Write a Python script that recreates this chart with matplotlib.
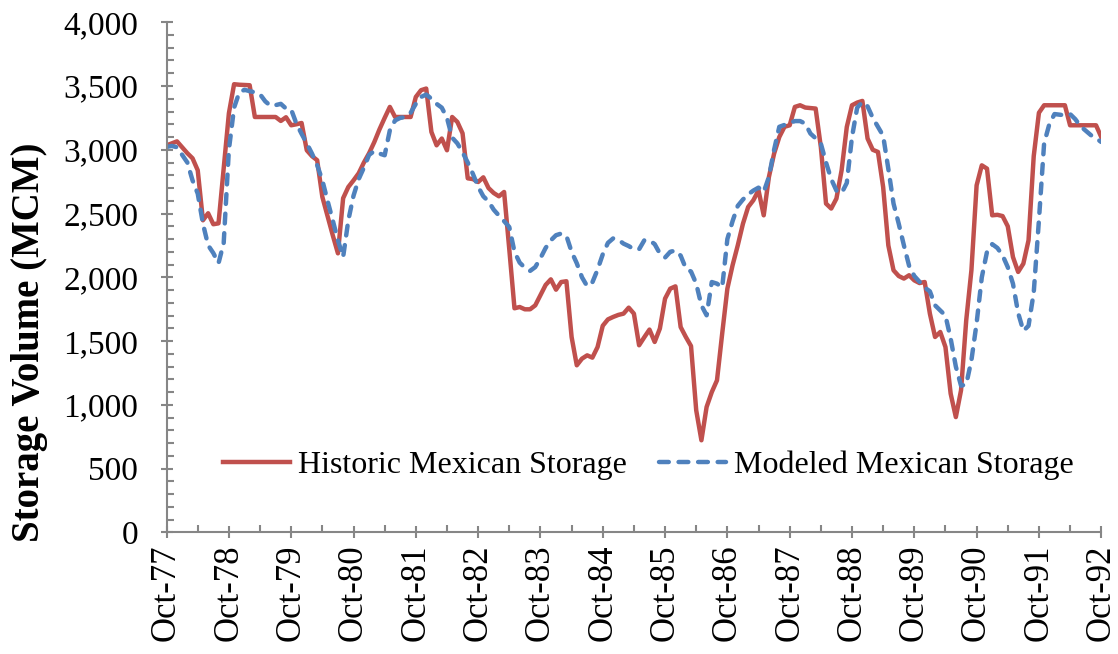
import matplotlib.pyplot as plt
from matplotlib.ticker import MultipleLocator, FuncFormatter

# Data (monthly, Oct-77 .. Oct-92)
tick_labels = ["Oct-77", "Oct-78", "Oct-79", "Oct-80", "Oct-81", "Oct-82", "Oct-83", "Oct-84",
               "Oct-85", "Oct-86", "Oct-87", "Oct-88", "Oct-89", "Oct-90", "Oct-91", "Oct-92"]

historic = [
    3035, 3050, 3066, 3020, 2973, 2933, 2839, 2447, 2502, 2416,
    2423, 2850, 3286, 3514, 3510, 3508, 3506, 3257, 3257, 3257,
    3257, 3257, 3226, 3255, 3192, 3200, 3210, 2996, 2950, 2918,
    2630, 2480, 2330, 2188, 2620, 2708, 2760, 2816, 2900, 2973,
    3060, 3160, 3250, 3336, 3257, 3257, 3257, 3257, 3414, 3467,
    3480, 3140, 3035, 3088, 2996, 3257, 3218, 3129, 2776, 2770,
    2747, 2784, 2700, 2661, 2635, 2669, 2220, 1757, 1767, 1749,
    1749, 1780, 1860, 1940, 1984, 1903, 1963, 1969, 1532, 1310,
    1362, 1388, 1370, 1453, 1620, 1670, 1689, 1705, 1715, 1762,
    1715, 1467, 1530, 1590, 1493, 1598, 1833, 1911, 1929, 1610,
    1532, 1461, 957, 722, 983, 1100, 1192, 1558, 1911, 2094,
    2250, 2420, 2551, 2604, 2682, 2486, 2787, 2970, 3100, 3180,
    3192, 3336, 3349, 3331, 3327, 3323, 3022, 2578, 2539, 2617,
    2839, 3179, 3349, 3370, 3383, 3088, 3000, 2983, 2708, 2250,
    2055, 2010, 1990, 2016, 1976, 1955, 1963, 1715, 1532, 1571,
    1453, 1088, 904, 1114, 1663, 2055, 2721, 2878, 2852, 2486,
    2490, 2480, 2400, 2159, 2042, 2107, 2290, 2950, 3290, 3349,
    3349, 3349, 3349, 3349, 3192, 3192, 3192, 3192, 3192, 3192,
    3100]

modeled = [
    3022, 3030, 3020, 2960, 2900, 2760, 2656, 2421, 2251, 2190,
    2110, 2270, 3000, 3330, 3450, 3470, 3460, 3450, 3435, 3380,
    3345, 3350, 3360, 3323, 3315, 3205, 3125, 3050, 2970, 2880,
    2760, 2600, 2447, 2290, 2159, 2447, 2640, 2770, 2860, 2960,
    2990, 2970, 2957, 3153, 3230, 3250, 3257, 3290, 3360, 3414,
    3433, 3400, 3360, 3330, 3250, 3095, 3050, 2980, 2900, 2810,
    2710, 2635, 2595, 2530, 2484, 2440, 2394, 2200, 2115, 2075,
    2050, 2080, 2150, 2230, 2290, 2330, 2343, 2325, 2200, 2110,
    2000, 1930, 1960, 2060, 2180, 2270, 2305, 2295, 2264, 2245,
    2220, 2220, 2290, 2290, 2260, 2186, 2155, 2200, 2210, 2170,
    2070, 2045, 1950, 1780, 1702, 1963, 1950, 1920, 2300, 2440,
    2560, 2610, 2650, 2680, 2703, 2669, 2787, 3000, 3180, 3195,
    3210, 3225, 3225, 3205, 3127, 3090, 3049, 2900, 2770, 2680,
    2660, 2740, 3100, 3330, 3375, 3340, 3250, 3180, 3110, 2850,
    2578, 2420, 2250, 2090, 2010, 1965, 1920, 1890, 1780, 1740,
    1700, 1520, 1300, 1150, 1160, 1350, 1640, 2000, 2200, 2260,
    2230, 2172, 2080, 1950, 1720, 1580, 1620, 1880, 2447, 3050,
    3200, 3280, 3275, 3270, 3280, 3240, 3185, 3150, 3115, 3090,
    3061]

months = list(range(len(historic)))

plt.rcParams['font.family'] = ['Liberation Serif', 'DejaVu Serif']

fig = plt.figure(figsize=(11.18, 6.54), dpi=100)
ax = fig.add_axes([0.149, 0.186, 0.836, 0.780])

ax.plot(months, historic, color="#C0504D", linewidth=3.2, label="Historic Mexican Storage")
ax.plot(months, modeled, color="#4F81BD", linewidth=3.2, linestyle=(0, (2.2, 2.2)),
        dash_capstyle="round", label="Modeled Mexican Storage")

ax.set_xlim(0, 180)
ax.set_ylim(0, 4000)

# Axes styling (Excel-like)
for side in ["top", "right"]:
    ax.spines[side].set_visible(False)
for side in ["left", "bottom"]:
    ax.spines[side].set_color("#868686")
    ax.spines[side].set_linewidth(1.5)

ax.set_xticks([12 * i for i in range(len(tick_labels))])
ax.set_xticklabels(tick_labels)
ax.set_xticks([6 + 12 * i for i in range(len(tick_labels) - 1)], minor=True)
ax.yaxis.set_major_locator(MultipleLocator(500))
ax.yaxis.set_minor_locator(MultipleLocator(100))
ax.yaxis.set_major_formatter(FuncFormatter(lambda v, p: f"{int(v):,}"))

ax.tick_params(axis="both", which="major", direction="inout", length=9, width=1.5,
               color="#868686")
ax.tick_params(axis="both", which="minor", direction="in", length=5, width=1.5,
               color="#868686")
ax.tick_params(axis="x", which="major", labelrotation=90, pad=4, labelsize=25)
ax.tick_params(axis="y", which="major", pad=16, labelsize=24)

# y label sits lower than the axes centre in the original
fig.text(30 / 1118, 1 - 342 / 654, "Storage Volume (MCM)", rotation=90,
         ha="center", va="center", fontsize=28, fontweight="bold")

ax.legend(loc="center", bbox_to_anchor=(0.5155, 0.131), ncol=2, frameon=False,
          fontsize=23, handlelength=2.1, handletextpad=0.25, columnspacing=1.0)

fig.savefig("out.png", dpi=100)
